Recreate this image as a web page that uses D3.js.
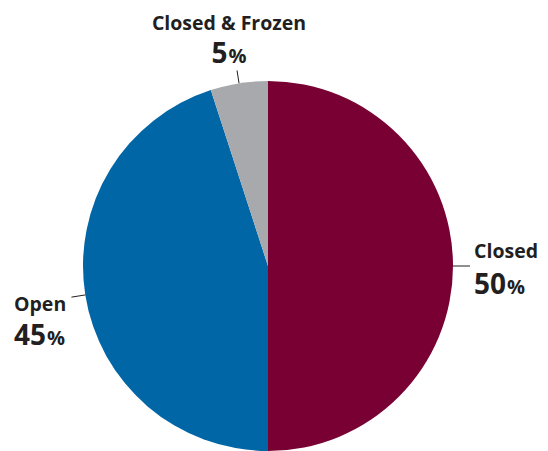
<!DOCTYPE html>
<html>
<head>
<meta charset="utf-8">
<script src="https://cdn.jsdelivr.net/npm/d3@7"></script>
<style>
  html, body { margin: 0; padding: 0; background: #fff; }
  text { font-family: "Open Sans", "Noto Sans", sans-serif; fill: #231f20; }
</style>
</head>
<body>
<svg id="chart" width="548" height="451"></svg>
<script>
// Account status shares
const categories = ["Closed", "Open", "Closed & Frozen"];
const shares = [50, 45, 5];
const colors = ["#780032", "#0066a6", "#a7a9ac"];

const svg = d3.select("#chart");
const cx = 268, cy = 266, radius = 185;

const pie = d3.pie().sort(null).value(d => d.value);
const arcs = pie(categories.map((c, i) => ({ name: c, value: shares[i], color: colors[i] })));
const arc = d3.arc().innerRadius(0).outerRadius(radius);

const g = svg.append("g").attr("transform", `translate(${cx},${cy})`);
g.selectAll("path.slice")
  .data(arcs)
  .join("path")
  .attr("class", "slice")
  .attr("d", arc)
  .attr("fill", d => d.data.color);

// Label placement per slice: leader length and text block offsets
const labelLayout = {
  "Closed":          { lead: 17, anchor: "start",  x: null, dx: 4,  nameY: -8,  valY: 28 },
  "Open":            { lead: 14, anchor: "start",  x: -254, dx: 0,  nameY: 14,  valY: 48 },
  "Closed & Frozen": { lead: 13, anchor: "middle", x: null, dx: -8, nameY: -40, valY: -7 }
};

const mid = d => (d.startAngle + d.endAngle) / 2;
arcs.forEach(d => {
  const L = labelLayout[d.data.name];
  const a = mid(d);
  const sx = Math.sin(a), sy = -Math.cos(a);
  const p0 = [sx * radius, sy * radius];
  const p1 = [sx * (radius + L.lead), sy * (radius + L.lead)];
  g.append("line")
    .attr("x1", p0[0]).attr("y1", p0[1])
    .attr("x2", p1[0]).attr("y2", p1[1])
    .attr("stroke", "#231f20").attr("stroke-width", 1);

  const tx = L.x !== null ? L.x : p1[0] + L.dx;
  const ty = p1[1];
  g.append("text")
    .attr("x", tx).attr("y", ty + L.nameY)
    .attr("text-anchor", L.anchor)
    .attr("font-size", 19.5).attr("font-weight", 700)
    .text(d.data.name);
  const v = g.append("text")
    .attr("x", tx).attr("y", ty + L.valY)
    .attr("text-anchor", L.anchor)
    .attr("font-weight", 700);
  v.append("tspan").attr("font-size", 28).text(d.data.value);
  v.append("tspan").attr("font-size", 20).attr("dx", 1).text("%");
});
</script>
</body>
</html>
